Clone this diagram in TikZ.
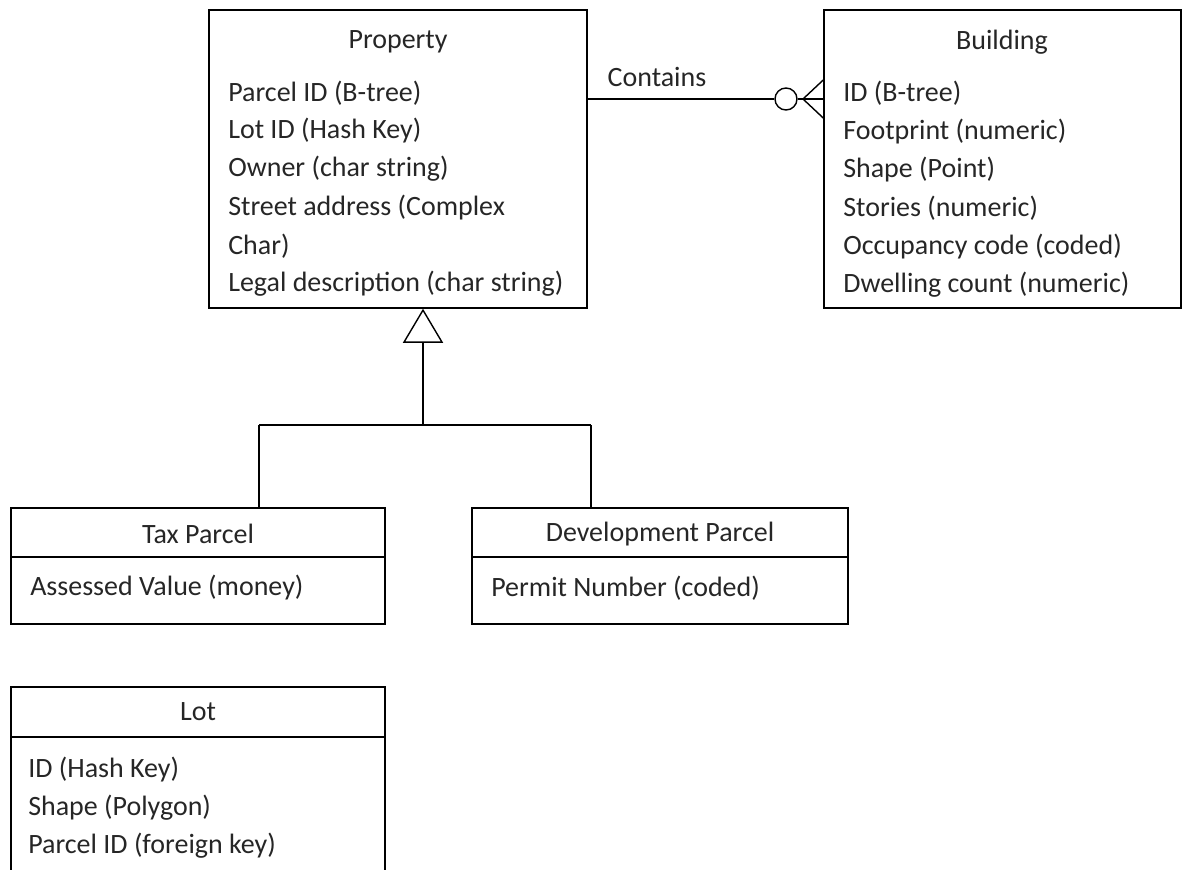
\documentclass[tikz,border=0pt]{standalone}
\usepackage{fontspec}
\setmainfont{Carlito}
\usetikzlibrary{arrows.meta}
\begin{document}
\begin{tikzpicture}
    [
        x=0.025cm, y=-0.025cm,
        every node/.style = {font=\fontsize{19.9}{22}\selectfont, text=black!85},
        entity/.style = {draw, shape=rectangle, line width=1pt},
        attr/.style = {anchor=west, inner sep=0pt},
        title/.style = {inner sep=0pt},
    ]

    \clip (0,0) rectangle (1191,869);

    % entity boxes
    \node[entity, minimum width=9.45cm, minimum height=7.45cm] (prop) at (398,159) {};
    \node[entity, minimum width=8.925cm, minimum height=7.45cm] (bldg) at (1002.5,159) {};
    \node[entity, minimum width=9.35cm, minimum height=2.9cm] (tax) at (198,566) {};
    \node[entity, minimum width=9.4cm, minimum height=2.9cm] (dev) at (660,566) {};
    \node[entity, minimum width=9.35cm, minimum height=6cm] (lot) at (198,807) {};

    % header separators
    \draw[line width=1pt] (tax.west |- 0,557) -- (tax.east |- 0,557);
    \draw[line width=1pt] (dev.west |- 0,557) -- (dev.east |- 0,557);
    \draw[line width=1pt] (lot.west |- 0,737) -- (lot.east |- 0,737);

    % Property
    \node[title] (propt) at (398,42) {Property};
    \node[attr] (p1) at (228,93)  {Parcel ID (B-tree)};
    \node[attr] (p2) at (228,131) {Lot ID (Hash Key)};
    \node[attr] (p3) at (228,169) {Owner (char string)};
    \node[attr] (p4) at (228,208) {Street address (Complex};
    \node[attr] (p5) at (228,246) {Char)};
    \node[attr] (p6) at (228,284) {Legal description (char string)};

    % Building
    \node[title] (bldgt) at (1002,42) {Building};
    \node[attr] (b1) at (843,93)  {ID (B-tree)};
    \node[attr] (b2) at (843,132) {Footprint (numeric)};
    \node[attr] (b3) at (843,170) {Shape (Point)};
    \node[attr] (b4) at (843,208) {Stories (numeric)};
    \node[attr] (b5) at (843,247) {Occupancy code (coded)};
    \node[attr] (b6) at (843,285) {Dwelling count (numeric)};

    % Tax Parcel
    \node[title] (taxt) at (198,534) {Tax Parcel};
    \node[attr] (t1) at (30,588) {Assessed Value (money)};

    % Development Parcel
    \node[title] (devt) at (660,534) {Development Parcel};
    \node[attr] (d1) at (491,588) {Permit Number (coded)};

    % Lot
    \node[title] (lott) at (198,712) {Lot};
    \node[attr] (l1) at (28,770) {ID (Hash Key)};
    \node[attr] (l2) at (28,808) {Shape (Polygon)};
    \node[attr] (l3) at (28,846) {Parcel ID (foreign key)};

    % Contains relation
    \node[title] (rel) at (657,77) {Contains};
    \node[draw, shape=circle, minimum size=0.55cm, inner sep=0pt, line width=1pt, fill=white] (zero) at (786,99) {};
    \coordinate (crow) at (803,99);
    \draw[line width=1pt] (prop.east |- zero) -- (zero.west);
    \draw[line width=1pt] (zero.east) -- (bldg.west |- zero);
    \draw[line width=1pt] (crow) -- (bldg.west |- 0,80);
    \draw[line width=1pt] (crow) -- (bldg.west |- 0,118);

    % generalization
    \coordinate (split) at (423,425);
    \coordinate (taxup) at (259,425);
    \coordinate (devup) at (591,425);
    \draw[line width=1pt, -{Triangle[open, length=0.85cm, width=1cm]}] (split) -- (prop.south -| split);
    \draw[line width=1pt] (taxup) -- (devup);
    \draw[line width=1pt] (taxup) -- (tax.north -| taxup);
    \draw[line width=1pt] (devup) -- (dev.north -| devup);
\end{tikzpicture}
\end{document}
